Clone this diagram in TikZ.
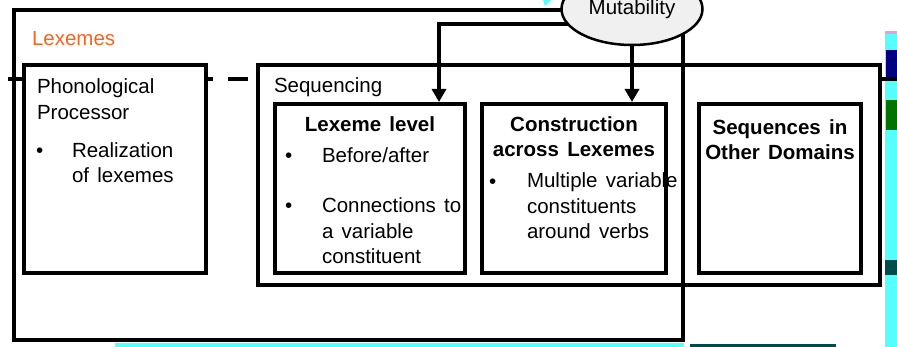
\documentclass[tikz,border=0pt]{standalone}
\usepackage{fontspec}
\setmainfont{Liberation Sans}[WordSpace=1.45]
\usetikzlibrary{shapes.geometric,arrows.meta}
\definecolor{lexorange}{RGB}{242,101,34}
\definecolor{mutgray}{RGB}{240,240,240}
\definecolor{glitch}{RGB}{85,255,255}

\begin{document}
\begin{tikzpicture}[x=1pt, y=-1pt,
        every node/.append style={font=\fontsize{20.5}{25.5}\selectfont, inner sep=0pt, outer sep=0pt},
        box/.style={draw, line width=4pt, fill=white, anchor=north west},
        txt/.style={anchor=base west, align=left},
        head/.style={anchor=base, align=center, font=\fontsize{20.5}{25.5}\selectfont\bfseries},
        arr/.style={line width=3.5pt, shorten >=2pt, -{Triangle[length=13pt,width=14pt]}}]
        \useasboundingbox (0,0) rectangle (897,347);

        % leftovers of the slide background
        \fill [glitch] (115,343) rectangle (684,347);
        \fill [glitch] (885,33) rectangle (897,347);
        \fill [magenta!40] (885,31) rectangle (897,34);
        \fill [blue!50!black] (886,50) rectangle (897,78);
        \fill [green!45!black] (886,100) rectangle (897,130);
        \fill [teal!60!black] (885,260) rectangle (897,275);
        \fill [teal!60!black] (690,344) rectangle (836,347);
        \fill [glitch] (543,0) -- (551,0) -- (545,6) -- cycle;

        \draw [line width=4pt] (8,79) -- (24,79) (206,79) -- (213,79) (228,79) -- (248,79) (880,79) -- (897,79);

        \node [box, minimum width=622, minimum height=220] (seq) at (258,65) {};
        \node [box, fill=none, minimum width=669, minimum height=330] (lex) at (14,10) {};
        \node [box, minimum width=182, minimum height=208] (phono) at (24,65) {};
        \node [box, minimum width=190, minimum height=169] (lexlvl) at (275,104) {};
        \node [box, minimum width=184, minimum height=169] (cross) at (482,104) {};
        \node [box, minimum width=162, minimum height=169] (other) at (699,104) {};

        \node [ellipse, draw, line width=2.5pt, fill=mutgray, minimum width=141, minimum height=72] (mut) at (632,9) {Mutability};
        \coordinate (lexin) at (439,104);

        \draw [arr] (mut.193) -| (lexin);
        \draw [arr] (mut.south) -- (mut.south |- cross.north);

        % multi-line texts sit on the baseline of their last line
        \node [txt, text=lexorange] (lextitle) at (32,46) {Lexemes};
        \node [txt] (phonotitle) at (37,120) {Phonological\\[1pt]Processor};
        \node [txt] (dot1) at (36,158) {•};
        \node [txt] (phonoitem) at (72,183) {Realization\\of lexemes};
        \node [txt] (seqtitle) at (274,93) {Sequencing};
        \node [head] (lvltitle) at (370,132) {Lexeme level};
        \node [txt] (dot2) at (285,163) {•};
        \node [txt] (lvlitem1) at (322,163) {Before/after};
        \node [txt] (dot3) at (285,213) {•};
        \node [txt] (lvlitem2) at (322,264) {Connections to\\a variable\\constituent};
        \node [head] (crosstitle) at (574,157) {Construction\\across Lexemes};
        \node [txt] (dot4) at (489,189) {•};
        \node [txt] (crossitem) at (527,239) {Multiple variable\\constituents\\around verbs};
        \node [head] (othertitle) at (780,160) {Sequences in\\Other Domains};
    \end{tikzpicture}
\end{document}
